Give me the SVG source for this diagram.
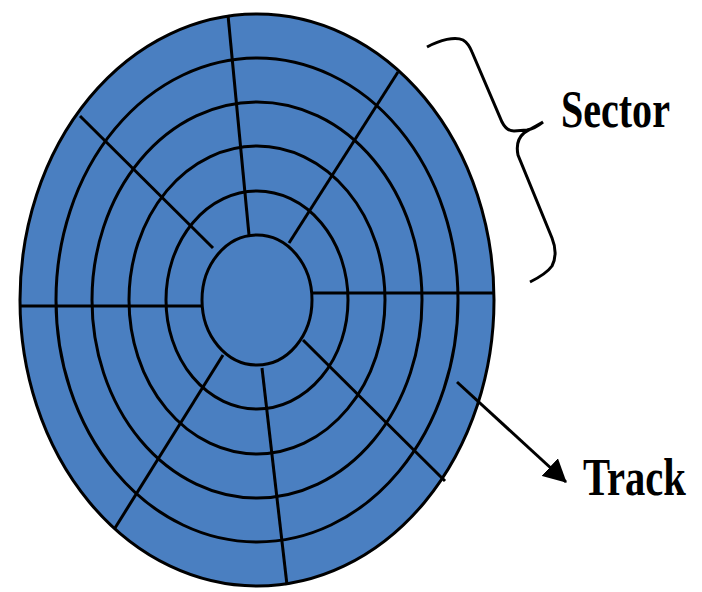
<svg xmlns="http://www.w3.org/2000/svg" width="702" height="592" viewBox="0 0 702 592">
<style>
.ring{fill:#4a7fc1;stroke:#000;stroke-width:3}
.rad{stroke:#000;stroke-width:3;fill:none;stroke-linecap:butt}
.lbl{font-family:"Liberation Serif","Times New Roman",serif;font-weight:bold;font-size:52px;fill:#000}
.con{stroke:#000;fill:none;stroke-width:3}
</style>
<defs>
<marker id="ah" viewBox="0 0 23 24" refX="22" refY="12" markerWidth="23" markerHeight="24" orient="auto" markerUnits="userSpaceOnUse">
<path d="M0,0 L23,12 L0,24 z" fill="#000"/>
</marker>
</defs>
<rect width="702" height="592" fill="#fff"/>
<g id="disk">
<ellipse class="ring" cx="257" cy="300" rx="237" ry="286"/>
<ellipse class="ring" cx="257" cy="300" rx="201" ry="242"/>
<ellipse class="ring" cx="257" cy="300" rx="165" ry="198"/>
<ellipse class="ring" cx="257" cy="300" rx="128" ry="154"/>
<ellipse class="ring" cx="257" cy="300" rx="91" ry="109"/>
<line class="rad" x1="228" y1="15" x2="249" y2="235"/>
<line class="rad" x1="80" y1="116" x2="213" y2="248"/>
<line class="rad" x1="398" y1="72" x2="289" y2="243"/>
<line class="rad" x1="313" y1="293" x2="494" y2="293"/>
<line class="rad" x1="19" y1="306" x2="202" y2="306"/>
<line class="rad" x1="223" y1="355" x2="115" y2="528"/>
<line class="rad" x1="262" y1="368" x2="287" y2="585"/>
<line class="rad" x1="303" y1="340" x2="445" y2="481"/>
<ellipse class="ring" cx="257" cy="300" rx="55" ry="65"/>
</g>
<g id="sector-label">
<text class="lbl" transform="translate(561,127) scale(0.77,1)">Sector</text>
</g>
<g id="track-label">
<text class="lbl" transform="translate(583,495) scale(0.78,1)">Track</text>
</g>
<g id="connectors">
<path id="brace" class="con" stroke-width="2.5" d="M427,47 C440,40 455,36 463,40 C468,43 470,47 472,52 L502,122 C505,128 508,131 514,131 L527,130 C533,129 538,126 543,122 C536,126 530,129 524,133 C518,138 516,145 518,155 L552,238 C556,248 556,258 552,266 C547,273 538,278 530,282"/>
<line id="track-arrow" class="con" x1="457" y1="382" x2="566" y2="482" marker-end="url(#ah)"/>
</g>
</svg>
